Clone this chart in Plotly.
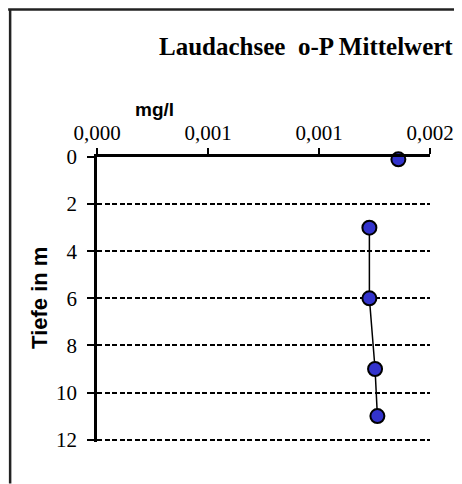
import plotly.graph_objects as go

depth = [0.1, 1, 3, 6, 9, 11]
conc = [0.00181, None, 0.001636, 0.001636, 0.00167, 0.001684]
x_tickvals = [0, 0.00066667, 0.00133333, 0.002]
x_ticktext = ["0,000", "0,001", "0,001", "0,002"]
y_tickvals = [0, 2, 4, 6, 8, 10, 12]

OFF = 8  # default body margin of the page
W, H = 462 - OFF, 484 - OFF
L, R, T, B = 97 - OFF, 430.5 - OFF, 157 - OFF, 442.4 - OFF


def px(xp):
    return (xp - OFF - L) / (R - L)


def py(yp):
    return (B - (yp - OFF)) / (B - T)


fig = go.Figure()
fig.add_trace(go.Scatter(
    x=conc, y=depth, mode="lines+markers", connectgaps=False,
    line=dict(color="black", width=1.5),
    marker=dict(size=14, color="#3333CC", line=dict(color="black", width=2)),
    showlegend=False, cliponaxis=False,
))

fig.update_layout(
    width=W, height=H,
    margin=dict(l=L, r=W - R, t=T, b=H - B, pad=0, autoexpand=False),
    paper_bgcolor="white", plot_bgcolor="white",
    font=dict(family="Liberation Serif", color="black"),
    xaxis=dict(
        range=[0, 0.002], side="top", automargin=False,
        tickmode="array", tickvals=x_tickvals, ticktext=x_ticktext,
        ticks="outside", ticklen=6, tickwidth=2, tickcolor="black",
        ticklabelstandoff=0,
        showline=True, linecolor="black", linewidth=2.5,
        showgrid=False, zeroline=False,
        tickfont=dict(family="Liberation Serif", size=21, color="black"),
    ),
    yaxis=dict(
        range=[12.1, 0], automargin=False, tickmode="array", tickvals=y_tickvals,
        ticks="outside", ticklen=7, tickwidth=1.5, tickcolor="black",
        ticklabelstandoff=6,
        showline=True, linecolor="black", linewidth=2.5,
        showgrid=True, gridcolor="black", gridwidth=1.7, griddash="5px,2.5px",
        zeroline=False,
        tickfont=dict(family="Liberation Serif", size=21, color="black"),
    ),
    shapes=[
        dict(type="line", xref="paper", yref="paper",
             x0=px(OFF), x1=px(462), y0=py(OFF + 1.2), y1=py(OFF + 1.2),
             line=dict(color="#222222", width=2.5)),
        dict(type="line", xref="paper", yref="paper",
             x0=px(10), x1=px(10), y0=py(OFF + 1.2), y1=py(484),
             line=dict(color="#222222", width=2.5)),
    ],
    annotations=[
        dict(text="<b>Laudachsee\u00a0 o-P Mittelwert</b>", xref="paper", yref="paper",
             x=px(456), y=py(46), xanchor="right", yanchor="middle",
             showarrow=False, font=dict(family="Liberation Serif", size=25, color="black")),
        dict(text="<b>mg/l</b>", xref="paper", yref="paper",
             x=px(155), y=py(109), xanchor="center", yanchor="middle",
             showarrow=False, font=dict(family="Liberation Sans", size=19, color="black")),
        dict(text="<b>Tiefe in m</b>", xref="paper", yref="paper",
             x=px(40), y=py(298), xanchor="center", yanchor="middle",
             textangle=-90, showarrow=False,
             font=dict(family="Liberation Sans", size=22, color="black")),
    ],
)

fig.write_html("out.html")
